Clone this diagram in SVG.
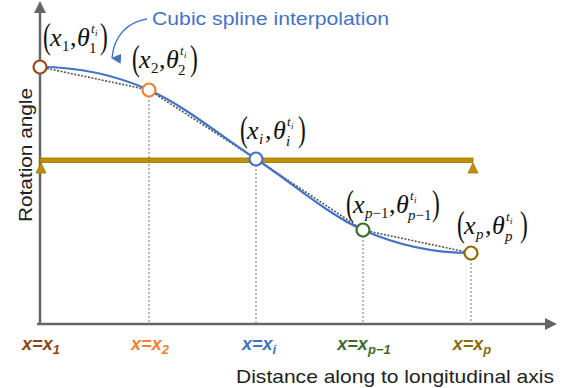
<svg xmlns="http://www.w3.org/2000/svg" width="567" height="388" viewBox="0 0 567 388">
<style>
.axis{stroke:#666;stroke-width:2.5;fill:none}
.vdot{stroke:#777;stroke-width:1;stroke-dasharray:2,2;fill:none}
.chord{stroke:#555;stroke-width:1.6;stroke-dasharray:2,1.5;fill:none}
.spline{stroke:#4472C4;stroke-width:2.2;fill:none}
.pt{fill:#fff;stroke-width:2.2}
.mi{font-family:"Liberation Serif",serif;font-style:italic;font-size:26px;fill:#111}
.mr{font-family:"Liberation Serif",serif;font-size:26px;fill:#111}
.sb{font-family:"Liberation Serif",serif;font-size:15px;fill:#111}
.sbi{font-family:"Liberation Serif",serif;font-style:italic;font-size:15px;fill:#111}
.sp{font-family:"Liberation Serif",serif;font-style:italic;font-size:13px;fill:#111}
.ss{font-family:"Liberation Serif",serif;font-style:italic;font-size:9px;fill:#111}
.par{font-family:"Liberation Serif",serif;font-size:36px;fill:#111}
.xl{font-family:"Liberation Sans",Arial,sans-serif;font-style:italic;font-weight:bold;font-size:18px;text-anchor:middle}
.ax{font-family:"Liberation Sans",Arial,sans-serif;font-size:19px;fill:#222}
</style>
<defs>
<marker id="ah" viewBox="0 0 10 10" refX="5" refY="9" markerWidth="10" markerHeight="10" markerUnits="userSpaceOnUse" orient="auto-start-reverse">
<path d="M0,0 L10,0 L5,10 Z" fill="#4472C4"/>
</marker>
</defs>

<g id="axes">
<line class="axis" x1="40" y1="324" x2="40" y2="12"/>
<polygon points="40,1 34,13 46,13" fill="#666"/>
<line class="axis" x1="37" y1="324" x2="546" y2="324"/>
<polygon points="557,324 545,318 545,330" fill="#666"/>
<text class="ax" transform="translate(32,222) rotate(-90)" textLength="134" lengthAdjust="spacingAndGlyphs">Rotation angle</text>
<text class="ax" x="236" y="383" textLength="318" lengthAdjust="spacingAndGlyphs">Distance along to longitudinal axis</text>
</g>

<g id="beam">
<rect x="40" y="158" width="433" height="4.5" fill="#BF9000" stroke="#9A7300" stroke-width="0.8"/>
<polygon points="41,163 36,173 46,173" fill="#BF9000" stroke="#9A7300" stroke-width="0.8"/>
<polygon points="473,163 468,173 478,173" fill="#BF9000" stroke="#9A7300" stroke-width="0.8"/>
</g>

<g id="connectors">
<line class="vdot" x1="149" y1="96" x2="149" y2="323"/>
<line class="vdot" x1="256" y1="165" x2="256" y2="323"/>
<line class="vdot" x1="363" y1="236" x2="363" y2="323"/>
<line class="vdot" x1="471" y1="259" x2="471" y2="323"/>
<polyline class="chord" points="40,67 149,90 256,159 363,230 471,253"/>
<path class="spline" d="M40,67 C76,67 113,74 149,90 C185,106 220,135.5 256,159 C292,182.5 327,214 363,230 C399,246 435,253 471,253"/>
<path d="M147,19 C128,22 114,35 112,58" stroke="#4472C4" stroke-width="1.3" fill="none" marker-end="url(#ah)"/>
<text x="152" y="25" font-family="Liberation Sans,Arial,sans-serif" font-size="19" fill="#4472C4" textLength="237" lengthAdjust="spacingAndGlyphs">Cubic spline interpolation</text>
</g>

<g id="p1">
<circle class="pt" cx="40" cy="67" r="6.5" stroke="#9C4A1A"/>
<g transform="translate(43,46)">
<text class="par" transform="translate(0,2) scale(0.65,1)">(</text>
<text class="mi" x="7" y="0">x</text>
<text class="sb" x="19" y="5">1</text>
<text class="mr" x="27" y="0">,</text>
<text class="mi" x="34" y="0">θ</text>
<text class="sp" x="48" y="-13">t</text><text class="ss" x="52" y="-10">i</text>
<text class="sb" x="46" y="7">1</text>
<text class="par" transform="translate(57,2) scale(0.65,1)">)</text>
</g>
</g>

<g id="p2">
<circle class="pt" cx="149" cy="90" r="6.5" stroke="#F08030"/>
<g transform="translate(132,68)">
<text class="par" transform="translate(0,2) scale(0.65,1)">(</text>
<text class="mi" x="7" y="0">x</text>
<text class="sb" x="19" y="5">2</text>
<text class="mr" x="27" y="0">,</text>
<text class="mi" x="34" y="0">θ</text>
<text class="sp" x="48" y="-13">t</text><text class="ss" x="52" y="-10">i</text>
<text class="sb" x="46" y="7">2</text>
<text class="par" transform="translate(58,2) scale(0.65,1)">)</text>
</g>
</g>

<g id="pi">
<circle class="pt" cx="256" cy="159" r="6.5" stroke="#4472C4"/>
<g transform="translate(240,139)">
<text class="par" transform="translate(0,2) scale(0.65,1)">(</text>
<text class="mi" x="7" y="0">x</text>
<text class="sbi" x="19" y="5">i</text>
<text class="mr" x="25" y="0">,</text>
<text class="mi" x="33" y="0">θ</text>
<text class="sp" x="47" y="-13">t</text><text class="ss" x="51" y="-10">i</text>
<text class="sbi" x="46" y="7">i</text>
<text class="par" transform="translate(58,2) scale(0.65,1)">)</text>
</g>
</g>

<g id="pp1">
<circle class="pt" cx="363" cy="230" r="6.5" stroke="#3F6B2A"/>
<g transform="translate(346,213)">
<text class="par" transform="translate(0,2) scale(0.65,1)">(</text>
<text class="mi" x="7" y="0">x</text>
<text class="sbi" x="19" y="5">p<tspan class="sb" font-style="normal">−1</tspan></text>
<text class="mr" x="43" y="0">,</text>
<text class="mi" x="50" y="0">θ</text>
<text class="sp" x="64" y="-13">t</text><text class="ss" x="68" y="-10">i</text>
<text class="sbi" x="62" y="7">p<tspan class="sb" font-style="normal">−1</tspan></text>
<text class="par" transform="translate(86,2) scale(0.65,1)">)</text>
</g>
</g>

<g id="pp">
<circle class="pt" cx="471" cy="253" r="6.5" stroke="#8C6C00"/>
<g transform="translate(457,234)">
<text class="par" transform="translate(0,2) scale(0.65,1)">(</text>
<text class="mi" x="7" y="0">x</text>
<text class="sbi" x="19" y="5">p</text>
<text class="mr" x="28" y="0">,</text>
<text class="mi" x="35" y="0">θ</text>
<text class="sp" x="49" y="-13">t</text><text class="ss" x="53" y="-10">i</text>
<text class="sbi" x="48" y="7">p</text>
<text class="par" transform="translate(63,2) scale(0.65,1)">)</text>
</g>
</g>

<g id="xlabels">
<text class="xl" x="41" y="350" fill="#8B4513">x=x<tspan dy="4" font-size="13">1</tspan></text>
<text class="xl" x="150" y="350" fill="#F08030">x=x<tspan dy="4" font-size="13">2</tspan></text>
<text class="xl" x="259" y="350" fill="#4472C4">x=x<tspan dy="4" font-size="13">i</tspan></text>
<text class="xl" x="364" y="350" fill="#3F6B2A">x=x<tspan dy="4" font-size="13">p−1</tspan></text>
<text class="xl" x="472" y="350" fill="#8C6C00">x=x<tspan dy="4" font-size="13">p</tspan></text>
</g>
</svg>
